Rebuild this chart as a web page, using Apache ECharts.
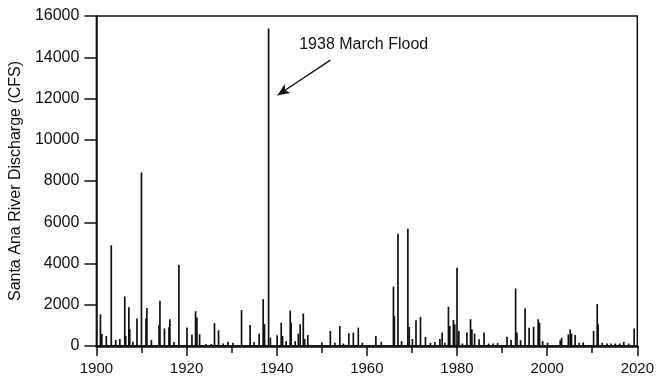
<!DOCTYPE html>
<html>
<head>
<meta charset="utf-8">
<script src="https://cdn.jsdelivr.net/npm/echarts@6/dist/echarts.min.js"></script>
<style>
  html, body { margin: 0; padding: 0; background: #fff; }
  #chart { width: 657px; height: 380px; }
</style>
</head>
<body>
<div id="chart"></div>
<script>
// peak discharge events (year, cfs)
const years = [
  1900.9, 1901.2, 1902.2, 1903.3, 1904.3, 1905.2, 1906.3, 1906.5, 1907.2, 1907.4,
  1908.1, 1909.0, 1910.0, 1911.0, 1911.2, 1912.2, 1913.9, 1914.1, 1915.1, 1916.1,
  1916.3, 1917.2, 1918.3, 1920.1, 1921.2, 1922.0, 1922.3, 1922.9, 1924.3, 1925.5,
  1926.2, 1927.1, 1928.1, 1929.2, 1930.3, 1932.2, 1934.1, 1935.0, 1936.1, 1937.0,
  1937.3, 1938.2, 1938.6, 1940.1, 1941.0, 1941.3, 1942.1, 1943.0, 1943.2, 1944.1,
  1944.8, 1945.2, 1945.9, 1946.2, 1946.9, 1950.0, 1951.9, 1952.9, 1954.0, 1954.8,
  1956.0, 1957.0, 1958.1, 1959.0, 1962.0, 1963.2, 1965.9, 1966.1, 1966.9, 1967.7,
  1969.1, 1969.4, 1970.1, 1970.9, 1971.9, 1973.0, 1974.1, 1975.1, 1976.2, 1976.7,
  1977.3, 1978.1, 1978.4, 1979.2, 1979.5, 1980.0, 1980.4, 1981.2, 1982.2, 1983.0,
  1983.3, 1983.9, 1984.9, 1986.0, 1987.0, 1988.0, 1989.0, 1991.1, 1992.0, 1993.0,
  1993.3, 1994.1, 1995.1, 1996.0, 1997.0, 1998.0, 1998.3, 1999.0, 2000.1, 2002.9,
  2003.2, 2004.7, 2005.1, 2005.4, 2006.2, 2007.1, 2008.0, 2010.3, 2011.1, 2011.3,
  2012.2, 2013.3, 2014.2, 2015.1, 2016.1, 2017.0, 2018.1, 2019.3
]
const flows = [
  1540, 580, 490, 4880, 290, 340, 2400, 490, 1880, 820,
  210, 1330, 8420, 1330, 1840, 290, 1020, 2190, 850, 920,
  1300, 190, 3940, 900, 540, 1690, 1380, 570, 100, 100,
  1110, 760, 120, 210, 160, 1740, 1020, 190, 600, 2270,
  1060, 15400, 400, 520, 1130, 490, 240, 1720, 1130, 240,
  600, 1050, 1580, 340, 530, 180, 730, 160, 970, 120,
  620, 650, 890, 160, 490, 210, 2880, 1460, 5440, 240,
  5680, 920, 340, 1250, 1410, 440, 160, 190, 340, 650,
  160, 1900, 970, 1260, 1050, 3800, 730, 120, 650, 1300,
  810, 600, 330, 650, 120, 120, 140, 450, 290, 2790,
  650, 280, 1830, 890, 930, 1300, 1130, 240, 160, 280,
  400, 560, 800, 600, 530, 160, 180, 730, 2030, 1050,
  160, 120, 120, 120, 120, 200, 120, 850
]

// annotation: label position and arrow (year, cfs)
const floodLabel = '1938 March Flood'
const labelAt = [1959.3, 14600]
const arrowFrom = [1951.9, 13860]
const arrowTo = [1940.2, 12160]

const chart = echarts.init(document.getElementById('chart'))
const font = 'Liberation Sans, Arial, sans-serif'

chart.setOption({
  animation: false,
  backgroundColor: '#fff',
  grid: {
    left: 96, right: 19, top: 16, bottom: 34,
    show: true, borderColor: '#111', borderWidth: 1.5
  },
  xAxis: {
    type: 'value',
    min: 1900, max: 2020, interval: 20,
    axisLine: { show: true, onZero: false, lineStyle: { color: '#111', width: 2.5 } },
    axisTick: { show: true, inside: false, length: 10, lineStyle: { color: '#111', width: 1.5 } },
    minorTick: { show: true, splitNumber: 2, length: 7, lineStyle: { color: '#111', width: 1.5 } },
    splitLine: { show: false },
    axisLabel: {
      color: '#111', fontSize: 15, fontFamily: font, margin: 15,
      formatter: v => String(v)
    }
  },
  yAxis: {
    type: 'value',
    min: 0, max: 16000, interval: 2000,
    name: 'Santa Ana River Discharge (CFS)',
    nameLocation: 'middle',
    nameGap: 71,
    nameTextStyle: { color: '#111', fontSize: 16, fontFamily: font },
    axisLine: { show: true, lineStyle: { color: '#111', width: 1.5 } },
    axisTick: { show: true, inside: false, length: 12, lineStyle: { color: '#111', width: 1.5 } },
    splitLine: { show: false },
    axisLabel: {
      color: '#111', fontSize: 16, fontFamily: font, margin: 17,
      formatter: v => String(v)
    }
  },
  series: [{
    type: 'bar',
    barWidth: 1.7,
    itemStyle: { color: '#111' },
    data: years.map((y, i) => [y, flows[i]]),
    markLine: {
      silent: true,
      symbol: ['none', 'arrow'],
      symbolSize: [8, 12],
      label: { show: false },
      lineStyle: { color: '#111', width: 1.3, type: 'solid' },
      data: [[{ coord: arrowFrom }, { coord: arrowTo }]]
    },
    markPoint: {
      silent: true,
      symbol: 'circle',
      symbolSize: 0,
      label: {
        show: true, position: 'inside', formatter: floodLabel,
        color: '#111', fontSize: 16, fontFamily: font
      },
      data: [{ coord: labelAt }]
    }
  }]
})
</script>
</body>
</html>
